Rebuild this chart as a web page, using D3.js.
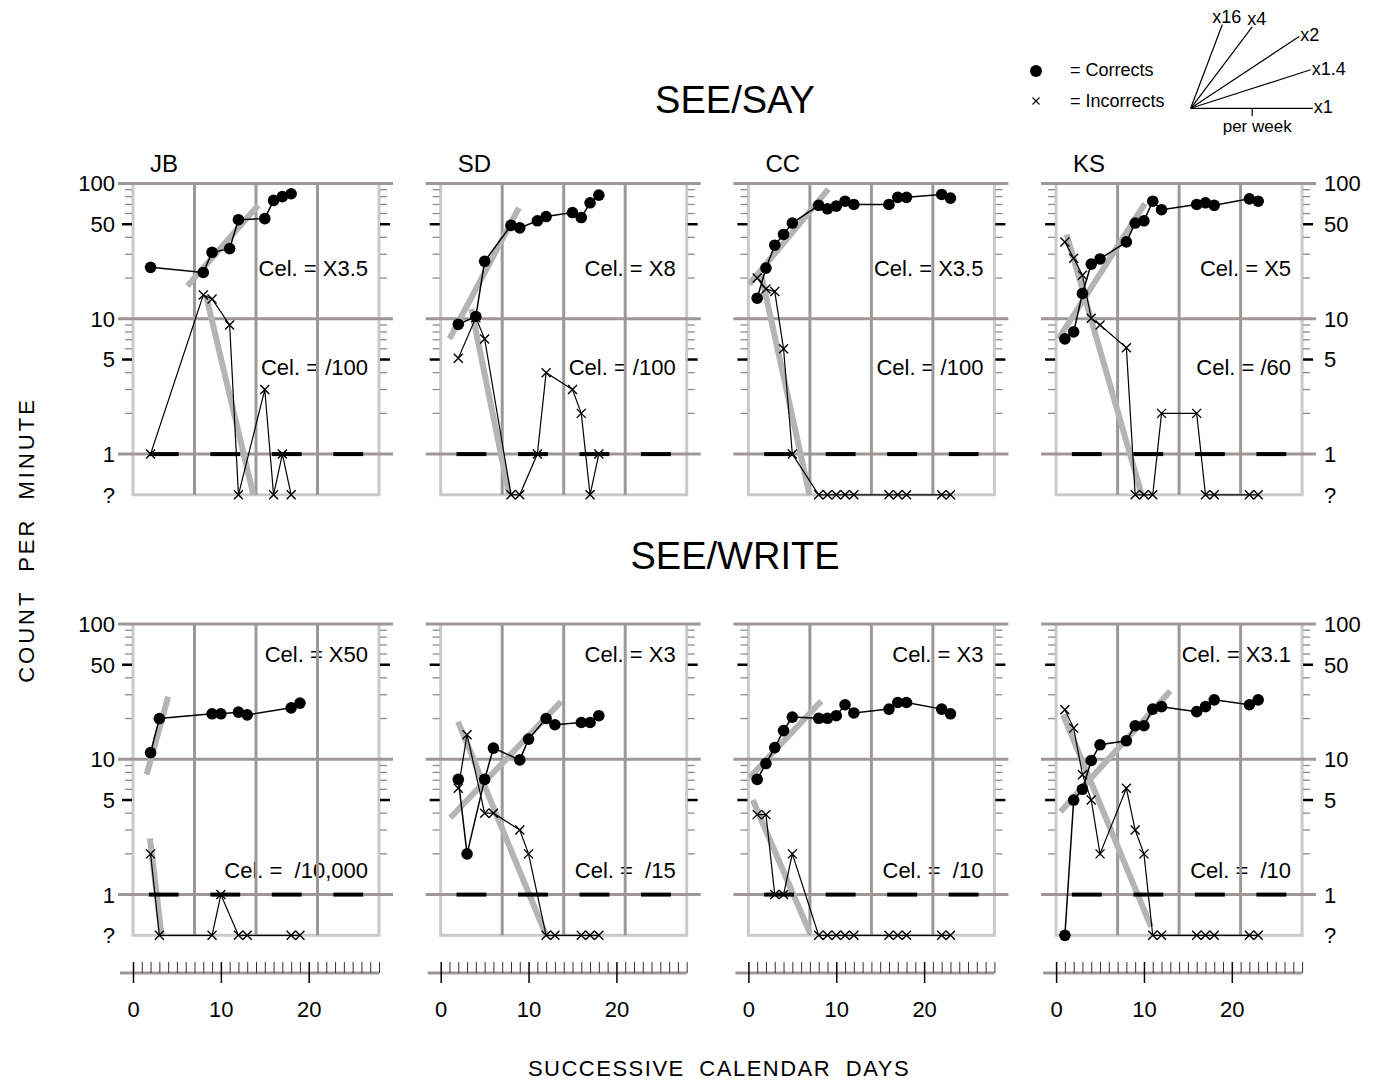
<!DOCTYPE html>
<html>
<head>
<meta charset="utf-8">
<script src="https://cdn.jsdelivr.net/npm/d3@7"></script>
<style>
  body { margin: 0; background: #fff; }
  svg text { font-family: "Liberation Sans", Arial, sans-serif; fill: #000; }
</style>
</head>
<body>
<div id="chart"></div>
<script>
// Standard celeration chart, 2 skills x 4 students
const width = 1373;
const height = 1086;

// ---- data (day, count per minute; 0 = "?" / no count) ----
const students = ["JB", "SD", "CC", "KS"];
const skills = ["SEE/SAY", "SEE/WRITE"];

const jbSayCorrects = [[2,24],[8,22],[9,31],[11,33],[12,54],[15,55],[16,75],[17,80],[18,84]];
const jbSayIncorrects = [[2,1],[8,15],[9,14],[11,9],[12,0],[15,3],[16,0],[17,1],[18,0]];
const sdSayCorrects = [[2,9.1],[4,10.4],[5,26.6],[8,49],[9,47],[11,53],[12,57],[15,61],[16,56],[17,72],[18,82]];
const sdSayIncorrects = [[2,5.1],[4,10.2],[5,7.1],[8,0],[9,0],[11,1],[12,4],[15,3],[16,2],[17,0],[18,1]];
const ccSayCorrects = [[1,14.2],[2,23.7],[3,35],[4,42],[5,51],[8,69],[9,65],[10,68],[11,74],[12,70],[16,70],[17,79],[18,79],[22,83],[23,78]];
const ccSayIncorrects = [[1,20],[2,16.6],[3,15.9],[4,6],[5,1],[8,0],[9,0],[10,0],[11,0],[12,0],[16,0],[17,0],[18,0],[22,0],[23,0]];
const ksSayCorrects = [[1,7.1],[2,8],[3,15.4],[4,25.4],[5,27.7],[8,37],[9,51],[10,53],[11,74],[12,64],[16,70],[17,72],[18,69],[22,77],[23,74]];
const ksSayIncorrects = [[1,37],[2,28],[3,21],[4,10.1],[5,9],[8,6.1],[9,0],[10,0],[11,0],[12,2],[16,2],[17,0],[18,0],[22,0],[23,0]];

const jbWriteCorrects = [[2,11.2],[3,20],[9,21.7],[10,21.7],[12,22.3],[13,21.3],[18,24],[19,26]];
const jbWriteIncorrects = [[2,2],[3,0],[9,0],[10,1],[12,0],[13,0],[18,0],[19,0]];
const sdWriteCorrects = [[2,7.1],[3,2],[5,7.1],[6,12.1],[9,9.9],[10,14.1],[12,20],[13,18],[16,18.7],[17,18.7],[18,21]];
const sdWriteIncorrects = [[2,6.1],[3,15.2],[5,4],[6,4],[9,3],[10,2],[12,0],[13,0],[16,0],[17,0],[18,0]];
const ccWriteCorrects = [[1,7.1],[2,9.3],[3,12.2],[4,16.3],[5,20.5],[8,20.1],[9,20.1],[10,21],[11,25.3],[12,22],[16,23.5],[17,26.3],[18,26.3],[22,23.5],[23,21.7]];
const ccWriteIncorrects = [[1,3.9],[2,3.9],[3,1],[4,1],[5,2],[8,0],[9,0],[10,0],[11,0],[12,0],[16,0],[17,0],[18,0],[22,0],[23,0]];
const ksWriteCorrects = [[1,0],[2,5],[3,6],[4,9.8],[5,12.8],[8,13.7],[9,17.7],[10,17.7],[11,23.5],[12,24.5],[16,22.5],[17,24.5],[18,27.5],[22,25.3],[23,27.5]];
const ksWriteIncorrects = [[1,23.2],[2,17],[3,7.7],[4,5],[5,2],[8,6.1],[9,3],[10,2],[11,0],[12,0],[16,0],[17,0],[18,0],[22,0],[23,0]];

// celeration lines: [corrects start, end], [incorrects start, end]
const sayCelLines = [
  [[[6.2,17.5],[14.25,69]], [[8.3,15],[13.7,0.5]]],
  [[[1.0,7.1],[8.9,66]],    [[3.5,11.8],[7.8,0.5]]],
  [[[0.1,18],[9.1,91]],     [[1.45,21.4],[6.95,0.5]]],
  [[[0.27,7.1],[10.1,71]],  [[1.2,42],[9.75,0.5]]]
];
const writeCelLines = [
  [[[1.55,7.7],[4.0,29]],   [[1.93,2.6],[3.25,0.5]]],
  [[[1.1,3.7],[13.7,26.7]], [[1.97,19],[12,0.5]]],
  [[[0.1,7.3],[8.3,27]],    [[0.5,5],[7.0,0.52]]],
  [[[0.5,4.1],[13,32]],     [[0.8,21.3],[10.8,0.58]]]
];
const sayCelLabels = [["X3.5","/100"],["X8","/100"],["X3.5","/100"],["X5","/60"]];
const writeCelLabels = [["X50"," /10,000"],["X3"," /15"],["X3"," /10"],["X3.1"," /10"]];

const yTickValues = [100, 50, 10, 5, 1, 0];
const yTickLabels = ["100", "50", "10", "5", "1", "?"];
const minorValues = [2,3,4,6,7,8,9,20,30,40,60,70,80,90];
const weekLines = [7, 14, 21];
const floorBars = [[1.8,5.2],[8.8,12.2],[15.8,19.2],[22.8,26.2]];

const fanFactors = [16, 4, 2, 1.4, 1];
const fanLabels = ["x16", "x4", "x2", "x1.4", "x1"];
const fanDays = [3.6, 7.0, 12.35, 13.65, 13.9];

// ---- layout ----
const panelW = 246, colStep = 307.7, firstLeft = 133;
const rowTop = [183.5, 624];
const decade = 135.3;
const titleY = [112.5, 569];
const celLabelDy = [[92.5, 191.5], [38, 254]];
const gridColor = "#9d9896";
const frameColor = "#cacaca";

const svg = d3.select("#chart").append("svg")
  .attr("width", width).attr("height", height);
svg.append("rect").attr("width", width).attr("height", height).attr("fill", "#fff");

const sayData = [[jbSayCorrects, jbSayIncorrects],[sdSayCorrects, sdSayIncorrects],[ccSayCorrects, ccSayIncorrects],[ksSayCorrects, ksSayIncorrects]];
const writeData = [[jbWriteCorrects, jbWriteIncorrects],[sdWriteCorrects, sdWriteIncorrects],[ccWriteCorrects, ccWriteIncorrects],[ksWriteCorrects, ksWriteIncorrects]];

const xMark = (g, cx, cy, s, w) => {
  g.append("path")
    .attr("d", `M${cx-s},${cy-s}L${cx+s},${cy+s}M${cx-s},${cy+s}L${cx+s},${cy-s}`)
    .attr("stroke", "#000").attr("stroke-width", w).attr("fill", "none");
};

skills.forEach((skill, r) => {
  svg.append("text")
    .attr("x", 735).attr("y", titleY[r])
    .attr("text-anchor", "middle").attr("font-size", 38)
    .text(skill);

  students.forEach((name, c) => {
    const left = firstLeft + c * colStep, right = left + panelW;
    const top = rowTop[r], bottom = top + decade * Math.log10(200);
    const x = d3.scaleLinear().domain([0, 28]).range([left, right]);
    const y = d3.scaleLog().domain([0.5, 100]).range([bottom, top]);
    const yv = v => y(v <= 0 ? 0.5 : v);
    const [corrects, incorrects] = (r === 0 ? sayData : writeData)[c];
    const celLines = (r === 0 ? sayCelLines : writeCelLines)[c];
    const celLabels = (r === 0 ? sayCelLabels : writeCelLabels)[c];
    const g = svg.append("g");

    // celeration text
    celLabels.forEach((lab, k) => {
      g.append("text")
        .attr("x", right - 11).attr("y", top + celLabelDy[r][k])
        .attr("text-anchor", "end").attr("font-size", 22)
        .style("white-space", "pre")
        .text("Cel. = " + lab);
    });

    // frame
    g.append("path")
      .attr("d", `M${left},${top}V${bottom}H${right}V${top}`)
      .attr("fill", "none").attr("stroke", frameColor).attr("stroke-width", 3);
    weekLines.forEach(d => {
      g.append("line").attr("x1", x(d)).attr("x2", x(d)).attr("y1", top).attr("y2", bottom)
        .attr("stroke", gridColor).attr("stroke-width", 3);
    });
    [100, 10, 1].forEach(v => {
      g.append("line").attr("x1", left - 15).attr("x2", right + 14).attr("y1", y(v)).attr("y2", y(v))
        .attr("stroke", gridColor).attr("stroke-width", 3);
    });

    // side ticks
    minorValues.forEach(v => {
      g.append("line").attr("x1", left - 8).attr("x2", left - 1).attr("y1", y(v)).attr("y2", y(v))
        .attr("stroke", "#8c8c8c").attr("stroke-width", 1.3);
      g.append("line").attr("x1", right + 1).attr("x2", right + 8).attr("y1", y(v)).attr("y2", y(v))
        .attr("stroke", "#8c8c8c").attr("stroke-width", 1.3);
    });
    [5, 50].forEach(v => {
      g.append("line").attr("x1", left - 11).attr("x2", left - 1).attr("y1", y(v)).attr("y2", y(v))
        .attr("stroke", "#000").attr("stroke-width", 2.5);
      g.append("line").attr("x1", right + 1).attr("x2", right + 11).attr("y1", y(v)).attr("y2", y(v))
        .attr("stroke", "#000").attr("stroke-width", 2.5);
    });

    // celeration lines
    celLines.forEach(seg => {
      g.append("line")
        .attr("x1", x(seg[0][0])).attr("y1", yv(seg[0][1]))
        .attr("x2", x(seg[1][0])).attr("y2", yv(seg[1][1]))
        .attr("stroke", "#b4b4b4").attr("stroke-width", 6);
    });

    // record floor bars at 1
    floorBars.forEach(b => {
      g.append("line").attr("x1", x(b[0])).attr("x2", x(b[1])).attr("y1", y(1)).attr("y2", y(1))
        .attr("stroke", "#000").attr("stroke-width", 4);
    });

    // data lines
    const line = d3.line().x(d => x(d[0])).y(d => yv(d[1]));
    g.append("path").attr("d", line(incorrects)).attr("fill", "none")
      .attr("stroke", "#000").attr("stroke-width", 1.2);
    g.append("path").attr("d", line(corrects)).attr("fill", "none")
      .attr("stroke", "#000").attr("stroke-width", 1.5);
    incorrects.forEach(d => xMark(g, x(d[0]), yv(d[1]), 4.5, 1.4));
    g.selectAll(".dot").data(corrects).enter().append("circle")
      .attr("class", "dot")
      .attr("cx", d => x(d[0])).attr("cy", d => yv(d[1])).attr("r", 5.8)
      .attr("fill", "#000");

    // initials
    if (r === 0) {
      g.append("text").attr("x", left + 17).attr("y", 171.5)
        .attr("font-size", 24).text(name);
    }

    // y labels
    if (c === 0 || c === 3) {
      yTickValues.forEach((v, k) => {
        g.append("text")
          .attr("x", c === 0 ? left - 18 : right + 22)
          .attr("y", yv(v)).attr("dy", "0.36em")
          .attr("text-anchor", c === 0 ? "end" : "start")
          .attr("font-size", 22)
          .text(yTickLabels[k]);
      });
    }

    // x axis under the bottom row
    if (r === 1) {
      const axisY = 973;
      g.append("line").attr("x1", left - 13).attr("x2", right).attr("y1", axisY).attr("y2", axisY)
        .attr("stroke", gridColor).attr("stroke-width", 3);
      const minor = g.append("g").attr("transform", `translate(0,${axisY})`)
        .call(d3.axisBottom(x).tickValues(d3.range(1, 29).filter(d => d % 10)).tickSize(-11).tickFormat(""));
      minor.select(".domain").remove();
      minor.selectAll("line").attr("stroke", "#333").attr("stroke-width", 1);
      const major = g.append("g").attr("transform", `translate(0,${axisY})`)
        .call(d3.axisBottom(x).tickValues([0, 10, 20]).tickSize(10).tickPadding(18));
      major.select(".domain").remove();
      major.selectAll("line").attr("y1", -11).attr("stroke", "#000").attr("stroke-width", 1.5);
      major.selectAll("text").attr("font-size", 22).attr("font-family", "Liberation Sans, Arial, sans-serif").attr("fill", "#000");
    }
  });
});

// axis titles
svg.append("text")
  .attr("transform", "translate(34,540) rotate(-90)")
  .attr("text-anchor", "middle").attr("font-size", 22)
  .style("letter-spacing", "3px").style("word-spacing", "9px")
  .text("COUNT PER MINUTE");
svg.append("text")
  .attr("x", 719).attr("y", 1076)
  .attr("text-anchor", "middle").attr("font-size", 22)
  .style("letter-spacing", "1.5px").style("word-spacing", "7px")
  .text("SUCCESSIVE CALENDAR DAYS");

// legend
svg.append("circle").attr("cx", 1036).attr("cy", 71).attr("r", 6).attr("fill", "#000");
svg.append("text").attr("x", 1070).attr("y", 76).attr("font-size", 18).text("= Corrects");
xMark(svg, 1036, 101, 3.5, 1.1);
svg.append("text").attr("x", 1070).attr("y", 107).attr("font-size", 18).text("= Incorrects");

// celeration fan
const fanX = d3.scaleLinear().domain([0, 28]).range([1190.7, 1190.7 + panelW]);
const fanY = d3.scaleLog().domain([1, 10]).range([108.3, 108.3 - decade]);
fanFactors.forEach((f, k) => {
  const d = fanDays[k];
  const ex = fanX(d), ey = fanY(Math.pow(f, d / 7));
  svg.append("line").attr("x1", fanX(0)).attr("y1", fanY(1)).attr("x2", ex).attr("y2", ey)
    .attr("stroke", "#000").attr("stroke-width", 1.2);
  const steep = f >= 4;
  svg.append("text")
    .attr("x", steep ? ex + 4.5 : ex + 1)
    .attr("y", steep ? ey - 2 : ey + 5)
    .attr("text-anchor", steep ? "middle" : "start")
    .attr("font-size", 18)
    .text(fanLabels[k]);
});
svg.append("line").attr("x1", fanX(7)).attr("x2", fanX(7)).attr("y1", fanY(1)).attr("y2", fanY(1) + 8)
  .attr("stroke", "#000").attr("stroke-width", 1.2);
svg.append("text").attr("x", fanX(7) + 5).attr("y", 132).attr("text-anchor", "middle")
  .attr("font-size", 17).text("per week");
</script>
</body>
</html>
